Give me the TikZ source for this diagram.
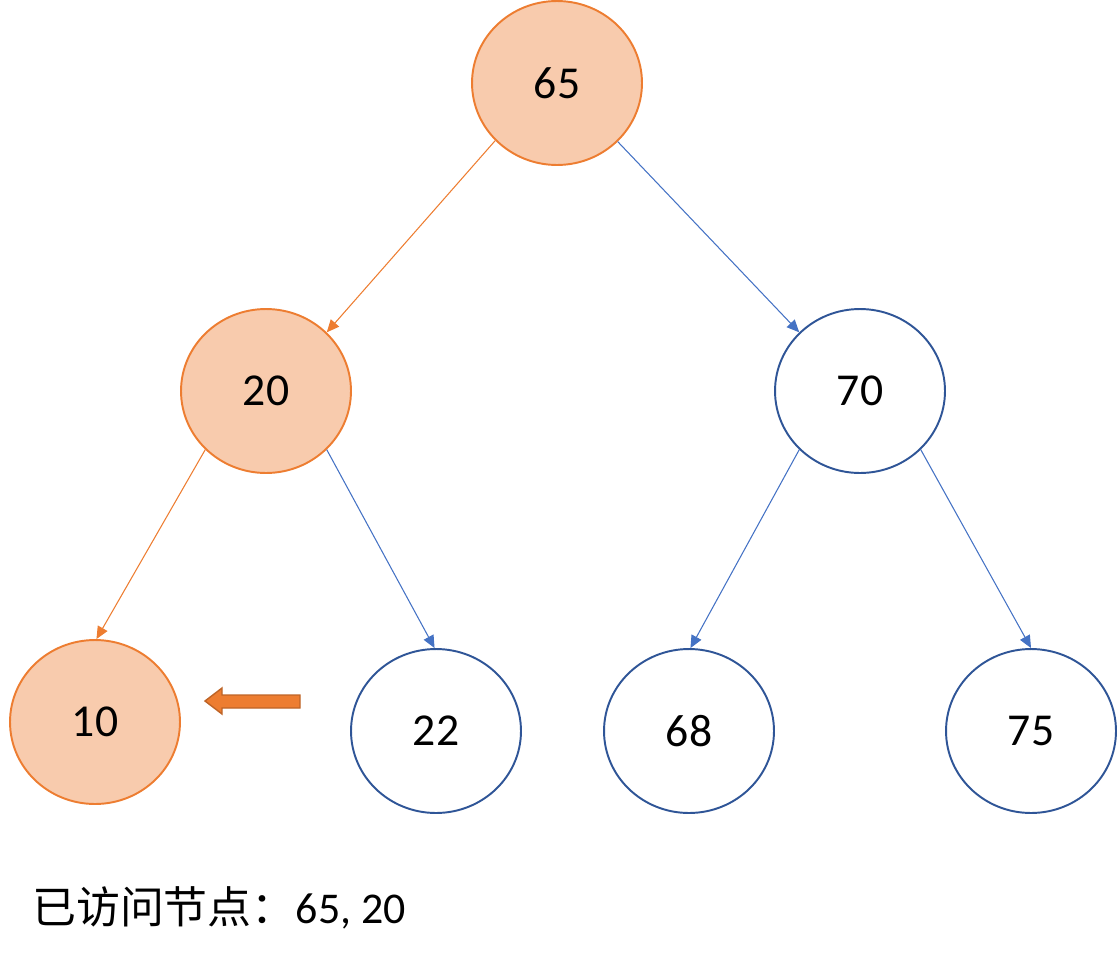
\documentclass[tikz,border=0pt]{standalone}
\usepackage{fontspec}
\setmainfont{Carlito}
\newfontfamily\cjk{Noto Sans CJK SC}
\usetikzlibrary{arrows.meta,shapes.geometric}
\definecolor{orangeline}{HTML}{ED7D31}
\definecolor{orangefill}{HTML}{F8CBAD}
\definecolor{blueline}{HTML}{2F5597}
\definecolor{blueedge}{HTML}{4472C4}

\begin{document}
\begin{tikzpicture}[
    x=0.02cm, y=-0.02cm,
    font=\fontsize{26}{30}\selectfont,
    treenode/.style={ellipse, minimum width=3.4cm, minimum height=3.28cm, inner sep=0pt, line width=1.1pt},
    visited/.style={treenode, draw=orangeline, fill=orangefill},
    unvisited/.style={treenode, draw=blueline, fill=white},
    hotedge/.style={draw=orangeline, line width=0.6pt, -{Triangle[length=0.25cm, width=0.22cm]}},
    coldedge/.style={draw=blueedge, line width=0.6pt, -{Triangle[length=0.25cm, width=0.22cm]}},
  ]
  \useasboundingbox (0,0) rectangle (1118,960);

  % tree nodes
  \node[visited]   (n65) at (557,83)   {65};
  \node[visited]   (n20) at (266,391)  {20};
  \node[unvisited] (n70) at (860,391)  {70};
  \node[visited]   (n10) at (95,722)   {10};
  \node[unvisited] (n22) at (436,731)  {22};
  \node[unvisited] (n68) at (689,731)  {68};
  \node[unvisited] (n75) at (1031,731) {75};

  % links: orange = path taken so far
  \draw[hotedge]  (n65.223) -- (n20.44);
  \draw[coldedge] (n65.316) -- (n70.136);
  \draw[hotedge]  (n20.224) -- (n10.89);
  \draw[coldedge] (n20.316) -- (n22.91);
  \draw[coldedge] (n70.224) -- (n68.89);
  \draw[coldedge] (n70.316) -- (n75.90);

  % current position marker
  \draw[draw=orangeline!80!black, fill=orangeline, line width=0.8pt, line join=miter]
    (205,701) -- (222,688) -- (222,695) -- (300,695) -- (300,708)
    -- (222,708) -- (222,714) -- cycle;

  \node[anchor=west, font=\fontsize{25}{30}\selectfont] (visitlist) at (26,908) {{\cjk 已访问节点：}65, 20};
\end{tikzpicture}
\end{document}
